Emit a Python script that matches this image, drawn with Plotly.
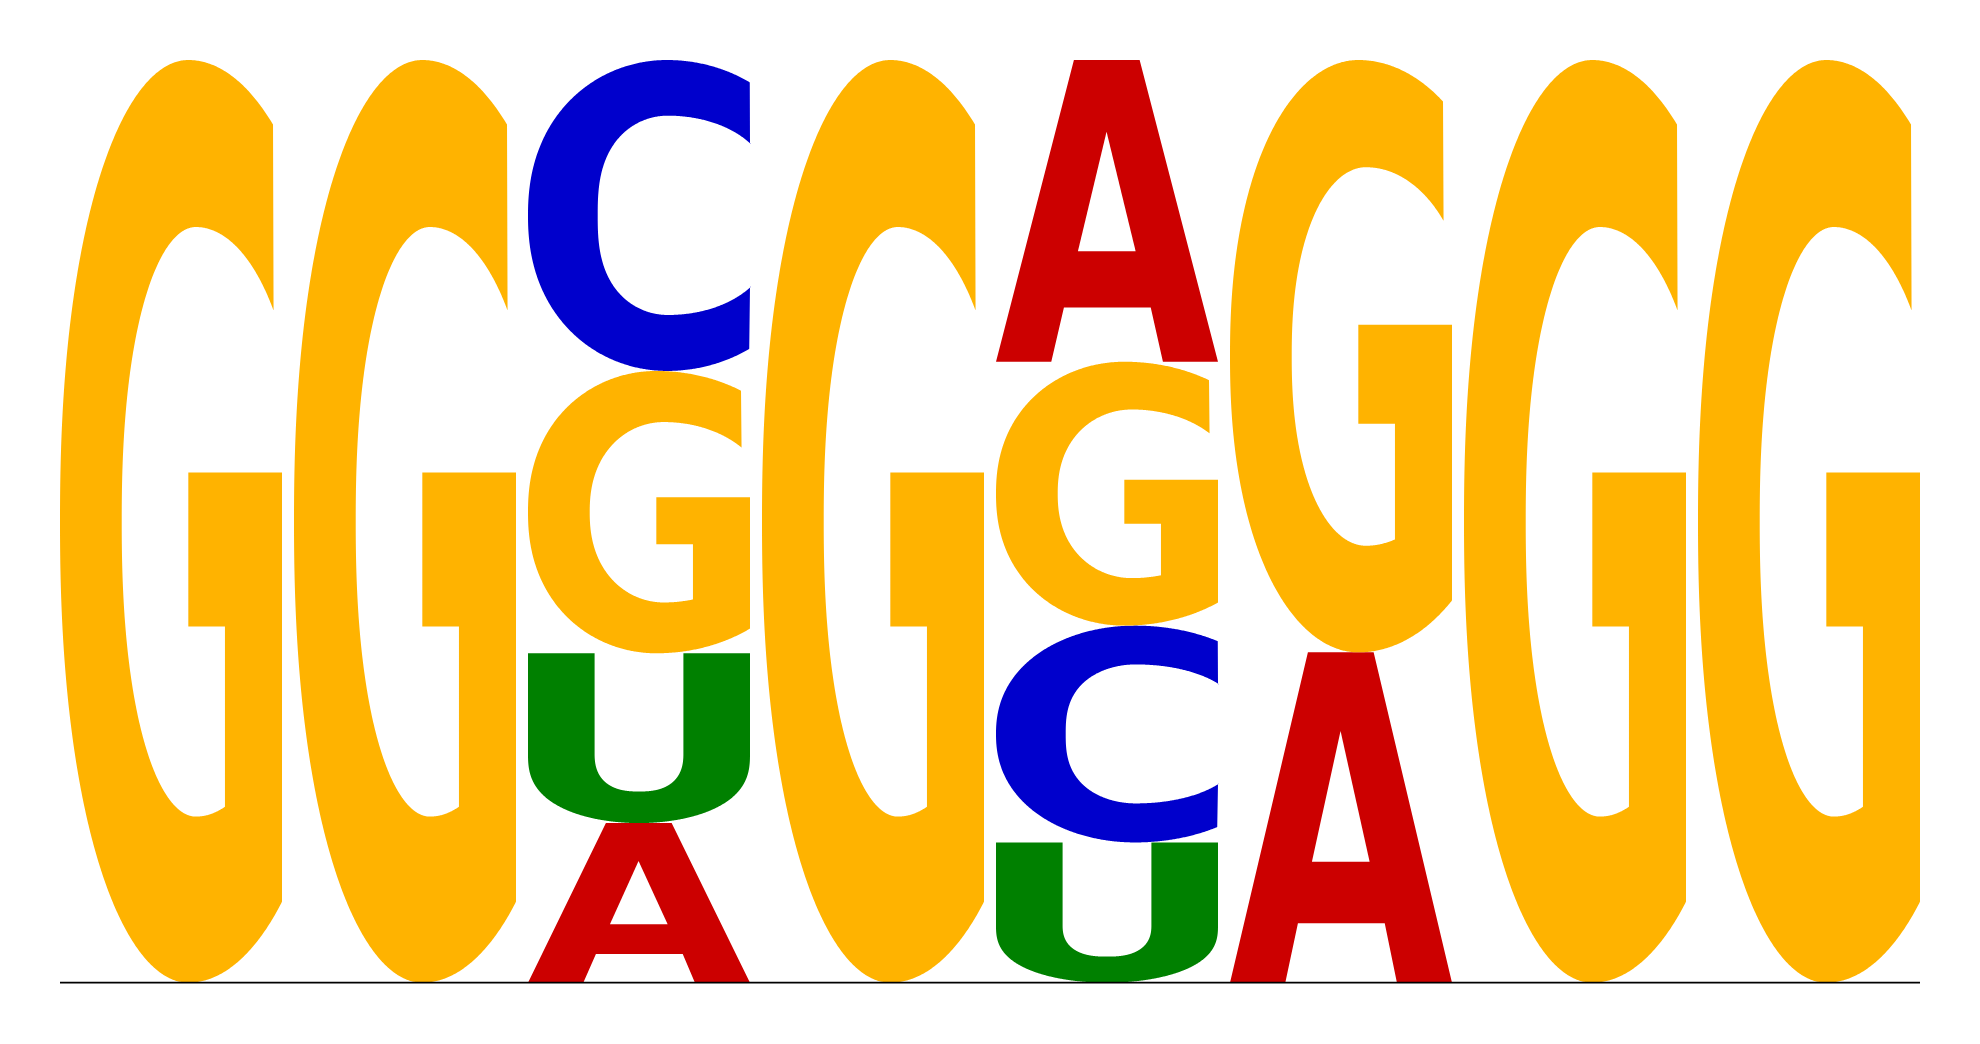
import numpy as np
import plotly.graph_objects as go

positions = [1, 2, 3, 4, 5, 6, 7, 8]
bases = ["A", "C", "G", "U"]
prob_A = [0.000, 0.000, 0.173, 0.000, 0.327, 0.358, 0.000, 0.000]
prob_C = [0.000, 0.000, 0.337, 0.000, 0.235, 0.000, 0.000, 0.000]
prob_G = [1.000, 1.000, 0.306, 1.000, 0.286, 0.642, 1.000, 1.000]
prob_U = [0.000, 0.000, 0.184, 0.000, 0.152, 0.000, 0.000, 0.000]

# ---------------- style ----------------
base_colors = {"A": "#CC0000", "C": "#0000CC", "G": "#FFB300", "U": "#008000"}
LETTER_W = 222.0 / 234.0          # letter width as a fraction of column pitch
W, H = 1980, 1044
PX_PER_X = 234.0
X0 = 1.0 - 171.0 / PX_PER_X        # x value at left edge of the page
BASE_PX, TOP_PX = 982.7, 60.0
PX_PER_Y = BASE_PX - TOP_PX


# ---------------- glyph outlines in a unit box ----------------
def sarc(cx, cy, al, ar, bl, bh, e1, e2, t0, t1, n=600):
    t = np.radians(np.linspace(t0, t1, n))
    c, s = np.cos(t), np.sin(t)
    cu = np.sign(c) * np.abs(c) ** e1
    sv = np.sign(s) * np.abs(s) ** e2
    u = cx + np.where(c < 0, al, ar) * cu
    v = cy + np.where(s < 0, bl, bh) * sv
    return list(u), list(v)


def t_for_v(frac, e2):
    return float(np.degrees(np.arcsin(min(frac, 1.0) ** (1.0 / e2))))


def t_for_u(frac, e1):
    return float(np.degrees(np.arccos(min(frac, 1.0) ** (1.0 / e1))))


def glyph_G():
    e2o = 0.9
    t1 = t_for_v((0.93 - 0.5) / 0.5, e2o)
    t2 = 360 - t_for_v((0.5 - 0.09) / 0.5, e2o)
    u, v = sarc(0.578, 0.5, 0.578, 0.715, 0.5, 0.5, 1.0, e2o, t1, t2)
    u = [min(x, 1.0) for x in u]
    for a, b in [(1.0, 0.09), (1.0, 0.553), (0.578, 0.553), (0.578, 0.386),
                 (0.743, 0.386), (0.743, 0.2)]:
        u.append(a); v.append(b)
    ar_i, e2i = 0.48, 0.88
    ts = 360 - t_for_u((0.743 - 0.612) / ar_i, 1.0)
    te = t_for_v((0.729 - 0.5) / 0.319, e2i)
    ui, vi = sarc(0.612, 0.5, 0.334, ar_i, 0.32, 0.319, 1.0, e2i, ts, te)
    u += ui; v += vi
    u.append(0.962); v.append(0.729)
    u.append(u[0]); v.append(v[0])
    return [(u, v)], []


def glyph_C():
    e2o = 0.9
    t1 = t_for_v((0.928 - 0.5) / 0.5, e2o)
    t2 = 360 - t_for_v((0.5 - 0.071) / 0.5, e2o)
    u, v = sarc(0.626, 0.5, 0.626, 0.69, 0.5, 0.5, 1.0, e2o, t1, t2)
    u = [min(x, 1.0) for x in u]
    u.append(1.0); v.append(0.271)
    ar_i, e2i = 0.487, 0.75
    ts = 360 - t_for_v((0.5 - 0.271) / 0.32, e2i)
    te = t_for_v((0.73 - 0.5) / 0.321, e2i)
    ui, vi = sarc(0.63, 0.5, 0.316, ar_i, 0.32, 0.321, 1.0, e2i, ts, te)
    u += ui; v += vi
    u.append(1.0); v.append(0.73)
    u.append(u[0]); v.append(v[0])
    return [(u, v)], []


def glyph_U():
    u, v = [0.0], [1.0]
    uo, vo = sarc(0.5, 0.41, 0.5, 0.5, 0.41, 0.41, 1.0, 0.75, 180, 360)
    u += uo; v += vo
    u += [1.0, 0.70]; v += [1.0, 1.0]
    ui, vi = sarc(0.5, 0.413, 0.2, 0.2, 0.227, 0.227, 0.8, 0.8, 360, 180)
    u += ui; v += vi
    u += [0.30, 0.0]; v += [1.0, 1.0]
    return [(u, v)], []


def glyph_A():
    outer = ([0.0, 0.351, 0.647, 1.0, 0.752, 0.697, 0.306, 0.249, 0.0],
             [0.0, 1.0, 1.0, 0.0, 0.0, 0.18, 0.18, 0.0, 0.0])
    hole = ([0.369, 0.498, 0.629, 0.369], [0.366, 0.762, 0.366, 0.366])
    return [outer], [hole]


GLYPHS = {"A": glyph_A(), "C": glyph_C(), "G": glyph_G(), "U": glyph_U()}

# ---------------- figure ----------------
fig = go.Figure()
probs = {"A": prob_A, "C": prob_C, "G": prob_G, "U": prob_U}

for ci, pos in enumerate(positions):
    col = [(b, probs[b][ci]) for b in bases if probs[b][ci] > 0]
    col.sort(key=lambda t: t[1])
    y0 = 0.0
    for b, h in col:
        y1 = y0 + h
        outs, holes = GLYPHS[b]
        xl = pos - LETTER_W / 2.0
        for (u, v) in outs:
            fig.add_trace(go.Scatter(
                x=[xl + uu * LETTER_W for uu in u],
                y=[y0 + vv * h for vv in v],
                mode="lines", fill="toself", fillcolor=base_colors[b],
                line=dict(width=0, color=base_colors[b], simplify=False),
                name=f"{b} @ {pos}", hoverinfo="skip", showlegend=False))
        for (u, v) in holes:
            fig.add_trace(go.Scatter(
                x=[xl + uu * LETTER_W for uu in u],
                y=[y0 + vv * h for vv in v],
                mode="lines", fill="toself", fillcolor="white",
                line=dict(width=0, color="white", simplify=False),
                hoverinfo="skip", showlegend=False))
        y0 = y1

# baseline
fig.add_trace(go.Scatter(
    x=[positions[0] - LETTER_W / 2.0, positions[-1] + LETTER_W / 2.0],
    y=[0, 0], mode="lines", line=dict(color="black", width=1.8),
    hoverinfo="skip", showlegend=False))

fig.update_layout(
    width=W, height=H,
    margin=dict(l=0, r=0, t=0, b=0),
    paper_bgcolor="white", plot_bgcolor="white",
    showlegend=False,
    xaxis=dict(range=[X0, X0 + W / PX_PER_X], visible=False, fixedrange=True),
    yaxis=dict(range=[-(H - BASE_PX) / PX_PER_Y, BASE_PX / PX_PER_Y],
               visible=False, fixedrange=True),
)

fig.write_html("out.html", config={"displayModeBar": False},
               post_script="document.body.style.margin='0';")
